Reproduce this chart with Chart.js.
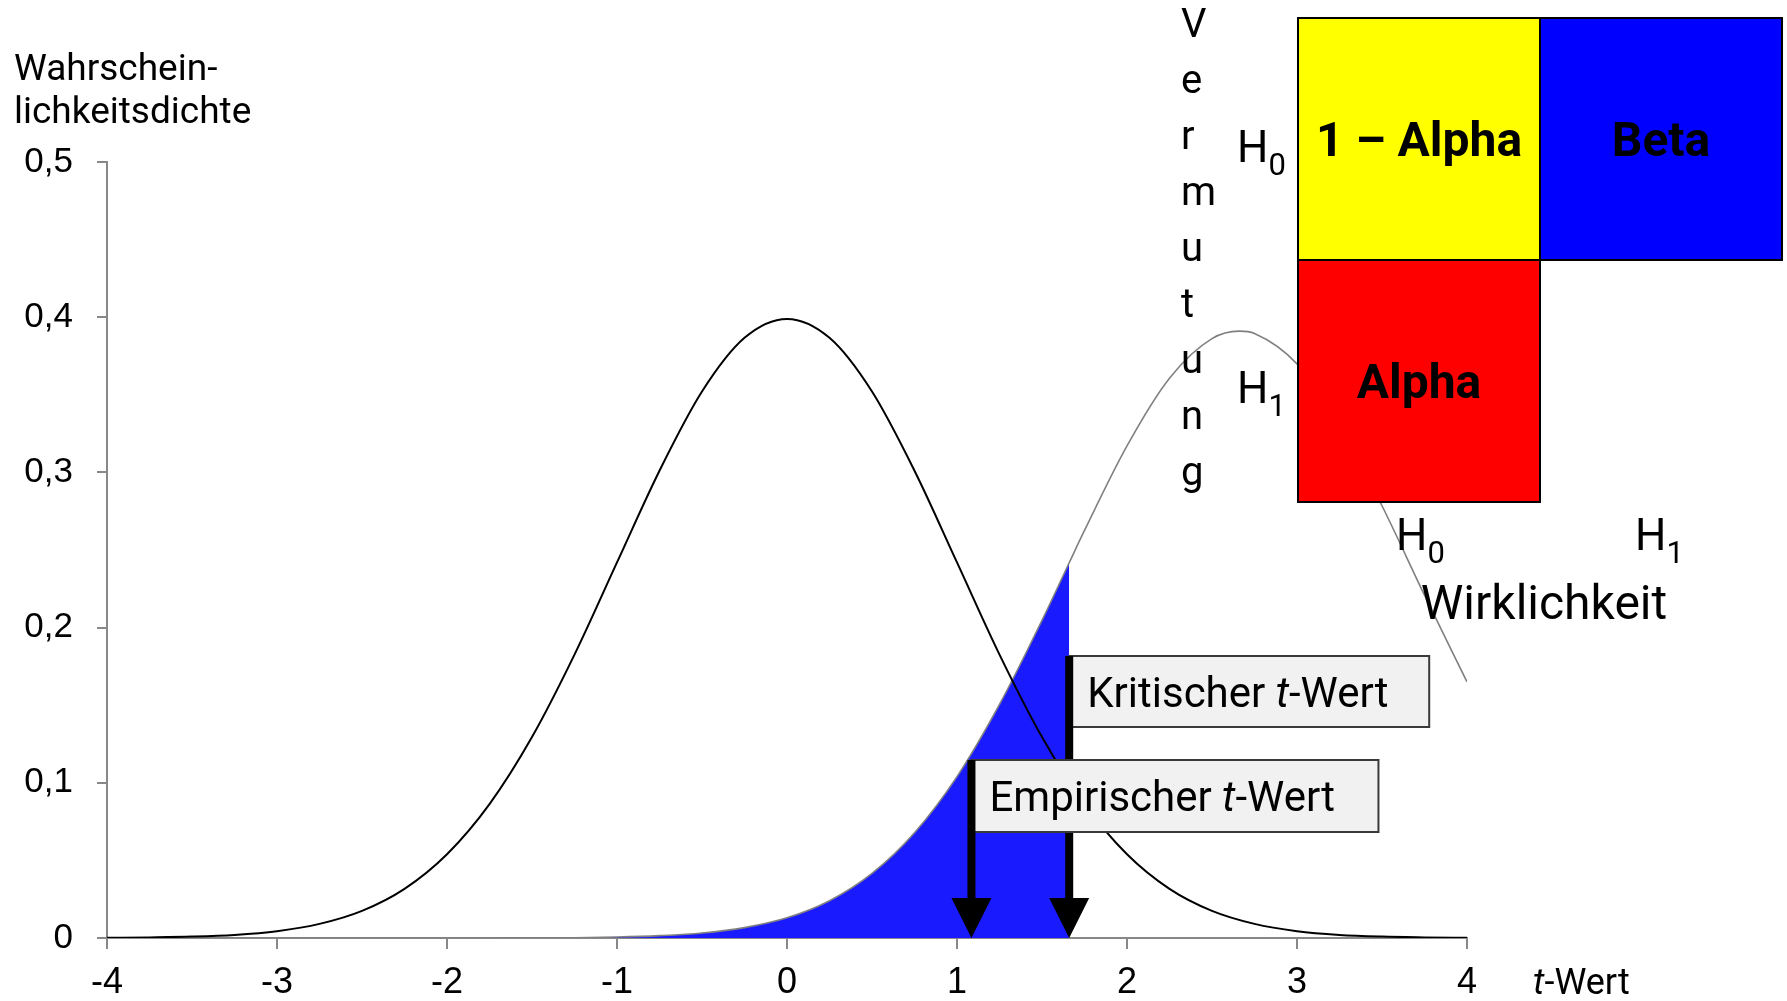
<!DOCTYPE html>
<html>
<head>
<meta charset="utf-8">
<script src="https://cdn.jsdelivr.net/npm/chart.js@4.4.1/dist/chart.umd.min.js"></script>
<style>
  html, body { margin: 0; padding: 0; background: #fff; }
  #wrap { width: 1787px; height: 1001px; position: relative; }
</style>
</head>
<body>
<div id="wrap"><canvas id="tChart" width="1787" height="1001"></canvas></div>
<script>
// ---------------- data ----------------
// density of t under H0
var h0X = [-4, -3.75, -3.5, -3.25, -3, -2.75, -2.5, -2.25, -2, -1.75, -1.5, -1.25, -1, -0.75, -0.5, -0.25,
    0, 0.25, 0.5, 0.75, 1, 1.25, 1.5, 1.75, 2, 2.25, 2.5, 2.75, 3, 3.25, 3.5, 3.75, 4];
var h0Density = [0.0001, 0.0004, 0.0009, 0.0020, 0.0044, 0.0091, 0.0175, 0.0317, 0.0540, 0.0863, 0.1295, 0.1826,
    0.2420, 0.3011, 0.3521, 0.3867, 0.3989, 0.3867, 0.3521, 0.3011, 0.2420, 0.1826, 0.1295, 0.0863,
    0.0540, 0.0317, 0.0175, 0.0091, 0.0044, 0.0020, 0.0009, 0.0004, 0.0001];

// density of t under H1 (grey curve)
var h1X = [-4, -3.5, -3, -2.5, -2, -1.75, -1.5, -1.25, -1, -0.75, -0.5, -0.25, 0, 0.25, 0.5, 0.75,
    1, 1.25, 1.5, 1.66, 1.75, 2, 2.25, 2.5, 2.66, 2.75, 3, 3.25, 3.5, 3.75, 4];
var h1Density = [0, 0, 0, 0, 0, 0.00003, 0.0001, 0.0002, 0.0006, 0.0015, 0.0032, 0.0067, 0.0130, 0.0240, 0.0416, 0.0678,
    0.1040, 0.1505, 0.2047, 0.2418, 0.2626, 0.3171, 0.3607, 0.3862, 0.3910, 0.3895, 0.3699, 0.3309, 0.2785, 0.2209, 0.1650];

var critT = 1.66;   // kritischer t-Wert
var empT = 1.085;   // empirischer t-Wert

var xTicks = [-4, -3, -2, -1, 0, 1, 2, 3, 4];
var yTicks = [0, 0.1, 0.2, 0.3, 0.4, 0.5];
var yTickLabels = ['0', '0,1', '0,2', '0,3', '0,4', '0,5'];

var tableCells = [
    { text: '1 \u2013 Alpha', row: 0, col: 0, color: '#ffff00' },
    { text: 'Beta', row: 0, col: 1, color: '#0000ff' },
    { text: 'Alpha', row: 1, col: 0, color: '#ff0000' }
];

//================================ helpers ================================
function toPoints(xs, ys) {
    return xs.map(function(v, i) { return { x: v, y: ys[i] }; });
}

// blue area: H1 density up to the critical value
var betaArea = toPoints(h1X, h1Density).filter(function(p) { return p.x <= critT; });

function drawParts(ctx, parts, x, y, size) {
    parts.forEach(function(p) {
        ctx.font = (p.italic ? 'italic ' : '') + size + 'px Roboto';
        ctx.fillText(p.text, x, y);
        x += ctx.measureText(p.text).width;
    });
}

function drawH(ctx, sub, x, y) {
    ctx.textAlign = 'left';
    ctx.textBaseline = 'alphabetic';
    ctx.font = '44px Roboto';
    ctx.fillText('H', x, y);
    var w = ctx.measureText('H').width;
    ctx.font = '31px Roboto';
    ctx.fillText(sub, x + w, y + 13);
}

function drawArrow(ctx, x, top, label, boxW, boxH, baseY) {
    var bottom = baseY;
    // box
    ctx.fillStyle = '#f1f1f1';
    ctx.strokeStyle = '#3a3a3a';
    ctx.lineWidth = 2;
    ctx.fillRect(x, top, boxW, boxH);
    ctx.strokeRect(x, top, boxW, boxH);
    ctx.fillStyle = '#000';
    ctx.textAlign = 'left';
    ctx.textBaseline = 'alphabetic';
    drawParts(ctx, label, x + 18, top + 51, 42);
    // shaft + head
    ctx.fillRect(x - 4, top, 8, bottom - top - 38);
    ctx.beginPath();
    ctx.moveTo(x - 20, bottom - 40);
    ctx.lineTo(x + 20, bottom - 40);
    ctx.lineTo(x, bottom);
    ctx.closePath();
    ctx.fill();
}

var extrasPlugin = {
    id: 'extras',
    afterDatasetsDraw: function(chart) {
        var ctx = chart.ctx;
        var xs = chart.scales.x;
        var ys = chart.scales.y;
        var base = ys.getPixelForValue(0);
        ctx.save();

        drawArrow(ctx, xs.getPixelForValue(critT), 656,
            [{ text: 'Kritischer ' }, { text: 't', italic: true }, { text: '-Wert' }], 360, 71, base);
        drawArrow(ctx, xs.getPixelForValue(empT), 760,
            [{ text: 'Empirischer ' }, { text: 't', italic: true }, { text: '-Wert' }], 407, 72, base);

        // 2x2 table Vermutung / Wirklichkeit
        var tx = 1298, ty = 18, cw = 242, ch = 242;
        tableCells.forEach(function(c) {
            var cx = tx + c.col * cw, cy = ty + c.row * ch;
            ctx.fillStyle = c.color;
            ctx.fillRect(cx, cy, cw, ch);
            ctx.strokeStyle = '#000';
            ctx.lineWidth = 2;
            ctx.strokeRect(cx, cy, cw, ch);
            ctx.fillStyle = '#000';
            ctx.font = 'bold 48px Roboto';
            ctx.textAlign = 'center';
            ctx.textBaseline = 'alphabetic';
            ctx.fillText(c.text, cx + cw / 2, cy + ch / 2 + 17);
        });

        ctx.fillStyle = '#000';
        drawH(ctx, '0', 1237, 162);
        drawH(ctx, '1', 1237, 403);
        drawH(ctx, '0', 1396, 550);
        drawH(ctx, '1', 1635, 550);

        ctx.font = '48px Roboto';
        ctx.textAlign = 'center';
        ctx.fillText('Wirklichkeit', 1544, 619);

        ctx.font = '40px Roboto';
        ctx.textAlign = 'left';
        'Vermutung'.split('').forEach(function(ch, i) {
            ctx.fillText(ch, 1181, 37 + i * 56);
        });

        // axis titles
        ctx.font = '37px Roboto';
        ctx.fillText('Wahrschein-', 14, 80);
        ctx.fillText('lichkeitsdichte', 14, 123);
        drawParts(ctx, [{ text: 't', italic: true }, { text: '-Wert' }], 1533, 994, 36);

        ctx.restore();
    }
};

//================================ chart ================================
var chrt = document.getElementById('tChart').getContext('2d');
var config = {
    type: 'line',
    data: {
        datasets: [{
            label: 'H0',
            data: toPoints(h0X, h0Density),
            borderColor: '#000',
            borderWidth: 2,
            cubicInterpolationMode: 'monotone',
            fill: false,
            order: 1
        }, {
            label: 'H1',
            data: toPoints(h1X, h1Density),
            borderColor: '#808080',
            borderWidth: 1.6,
            cubicInterpolationMode: 'monotone',
            fill: false,
            order: 2
        }, {
            label: 'Beta',
            data: betaArea,
            borderWidth: 0,
            borderColor: 'rgba(0,0,0,0)',
            backgroundColor: '#1a1aff',
            cubicInterpolationMode: 'monotone',
            fill: 'origin',
            order: 3
        }]
    },
    options: {
        responsive: false,
        animation: false,
        events: [],
        layout: { padding: { top: 162, right: 320, left: 0, bottom: 0 } },
        elements: { point: { radius: 0 } },
        plugins: {
            legend: { display: false },
            tooltip: { enabled: false }
        },
        scales: {
            x: {
                type: 'linear',
                min: -4,
                max: 4,
                afterBuildTicks: function(scale) {
                    scale.ticks = xTicks.map(function(v) { return { value: v }; });
                },
                afterFit: function(scale) { scale.height = 63; },
                ticks: {
                    color: '#000',
                    padding: 12,
                    font: { family: 'Liberation Sans', size: 36 },
                    callback: function(v) { return String(v); }
                },
                grid: { drawOnChartArea: false, drawTicks: true, tickLength: 11, color: '#888', lineWidth: 2 },
                border: { display: true, color: '#888', width: 2 }
            },
            y: {
                min: 0,
                max: 0.5,
                afterBuildTicks: function(scale) {
                    scale.ticks = yTicks.map(function(v) { return { value: v }; });
                },
                afterFit: function(scale) { scale.width = 107; },
                ticks: {
                    color: '#000',
                    padding: 24,
                    font: { family: 'Liberation Sans', size: 35 },
                    callback: function(v, i) { return yTickLabels[i]; }
                },
                grid: { drawOnChartArea: false, drawTicks: true, tickLength: 10, color: '#888', lineWidth: 2 },
                border: { display: true, color: '#888', width: 2 }
            }
        }
    },
    plugins: [extrasPlugin]
};

var fontsReady = document.fonts ? Promise.all([
    document.fonts.load('40px Roboto'),
    document.fonts.load('italic 40px Roboto'),
    document.fonts.load('bold 48px Roboto'),
    document.fonts.load('34px "Liberation Sans"')
]) : Promise.resolve();

fontsReady.then(function() {
    new Chart(chrt, config);
}, function() {
    new Chart(chrt, config);
});
</script>
</body>
</html>
